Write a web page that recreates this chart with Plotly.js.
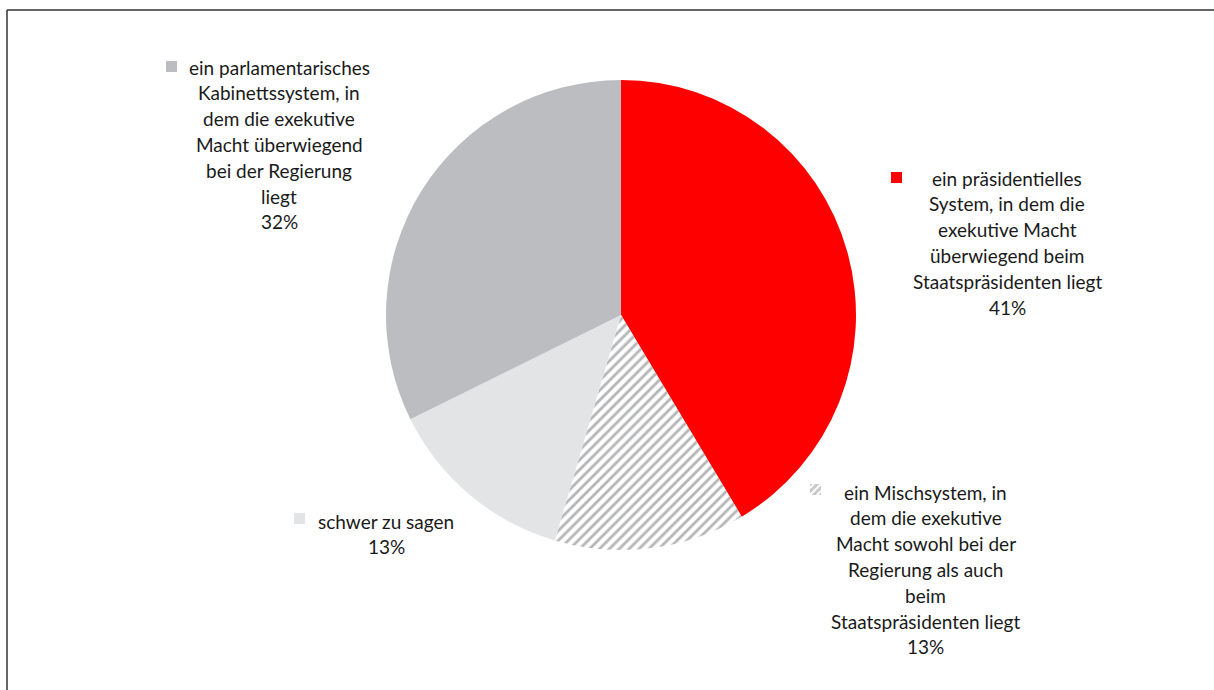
<!DOCTYPE html>
<html>
<head>
<meta charset="utf-8">
<script src="https://cdn.plot.ly/plotly-3.0.1.min.js"></script>
<style>
  html, body { margin: 0; padding: 0; background: #fff; }
  #grafico { width: 1214px; height: 690px; }
</style>
</head>
<body>
<div id="grafico"></div>
<script>
// Anteile der Antworten, im Uhrzeigersinn ab 12 Uhr
const kategorien = [
  "ein präsidentielles System, in dem die exekutive Macht überwiegend beim Staatspräsidenten liegt",
  "ein Mischsystem, in dem die exekutive Macht sowohl bei der Regierung als auch beim Staatspräsidenten liegt",
  "schwer zu sagen",
  "ein parlamentarisches Kabinettssystem, in dem die exekutive Macht überwiegend bei der Regierung liegt"
];
const werte = [41, 13, 13, 32];
const prozentTexte = ["41%", "13%", "13%", "32%"];

// Zeilenumbruch wie im Original
const beschriftungZeilen = [
  ["ein präsidentielles", "System, in dem die", "exekutive Macht", "überwiegend beim", "Staatspräsidenten liegt"],
  ["ein Mischsystem, in", "dem die exekutive", "Macht sowohl bei der", "Regierung als auch", "beim", "Staatspräsidenten liegt"],
  ["schwer zu sagen"],
  ["ein parlamentarisches", "Kabinettssystem, in", "dem die exekutive", "Macht überwiegend", "bei der Regierung", "liegt"]
];

const W = 1214, H = 690;
const px = (x) => x / W;
const py = (y) => 1 - y / H;

const farben = ["#ff0000", "#ffffff", "#e3e4e6", "#bcbdc0"];
const schrift = { family: "Lato, 'Open Sans', sans-serif", size: 19, color: "#1a1a1a" };

// Lage der Beschriftungen: Mitte des Textblocks (x), erste Zeile (y), Kästchen links oben
const lage = [
  { x: 1007, y: 178, kx: 891, ky: 172 },
  { x: 926, y: 492, kx: 810, ky: 484 },
  { x: 386, y: 521, kx: 294, ky: 513 },
  { x: 279, y: 67, kx: 166, ky: 61 }
];
const zeilenAbstand = 25.8;

const annotations = [];
const shapes = [];

beschriftungZeilen.forEach((zeilen, i) => {
  const alle = zeilen.concat([prozentTexte[i]]);
  alle.forEach((z, j) => {
    annotations.push({
      xref: "paper", yref: "paper",
      x: px(lage[i].x), y: py(lage[i].y + j * zeilenAbstand),
      xanchor: "center", yanchor: "middle",
      text: z, showarrow: false, font: schrift
    });
  });
  const k = 11;
  const kasten = {
    type: "rect", xref: "paper", yref: "paper",
    x0: px(lage[i].kx), x1: px(lage[i].kx + k),
    y0: py(lage[i].ky), y1: py(lage[i].ky + k),
    fillcolor: i === 1 ? "#c9cacc" : farben[i], line: { width: 0 }
  };
  shapes.push(kasten);
  if (i === 1) {
    // schraffiertes Kästchen: weiße Diagonalen auf grau
    [[0, k, k, 0], [0, 4, 4, 0], [k - 4, k, k, k - 4]].forEach((d) => {
      shapes.push({
        type: "line", xref: "paper", yref: "paper",
        x0: px(lage[i].kx + d[0]), y0: py(lage[i].ky + d[1]),
        x1: px(lage[i].kx + d[2]), y1: py(lage[i].ky + d[3]),
        line: { color: "#ffffff", width: 2 }
      });
    });
  }
});

// Rahmen oben und links
shapes.push({
  type: "line", xref: "paper", yref: "paper",
  x0: px(7), x1: px(W), y0: py(10), y1: py(10),
  line: { color: "#333333", width: 1.5 }
});
shapes.push({
  type: "line", xref: "paper", yref: "paper",
  x0: px(7), x1: px(7), y0: py(10), y1: py(H),
  line: { color: "#333333", width: 1.5 }
});

const data = [{
  type: "pie",
  labels: kategorien,
  values: werte,
  sort: false,
  direction: "clockwise",
  rotation: 0,
  textinfo: "none",
  hoverinfo: "label+text",
  text: prozentTexte,
  showlegend: false,
  domain: { x: [px(386), px(856)], y: [py(550), py(80)] },
  marker: {
    colors: farben,
    line: { width: 0 },
    pattern: {
      shape: ["", "/", "", ""],
      fgcolor: ["#ff0000", "#b5b6b8", "#e3e4e6", "#bcbdc0"],
      bgcolor: farben,
      size: 7,
      solidity: 0.4
    }
  }
}];

const layout = {
  width: W, height: H,
  margin: { l: 0, r: 0, t: 0, b: 0 },
  paper_bgcolor: "#ffffff",
  annotations: annotations,
  shapes: shapes
};

Plotly.newPlot("grafico", data, layout, { displayModeBar: false, staticPlot: true });
</script>
</body>
</html>
